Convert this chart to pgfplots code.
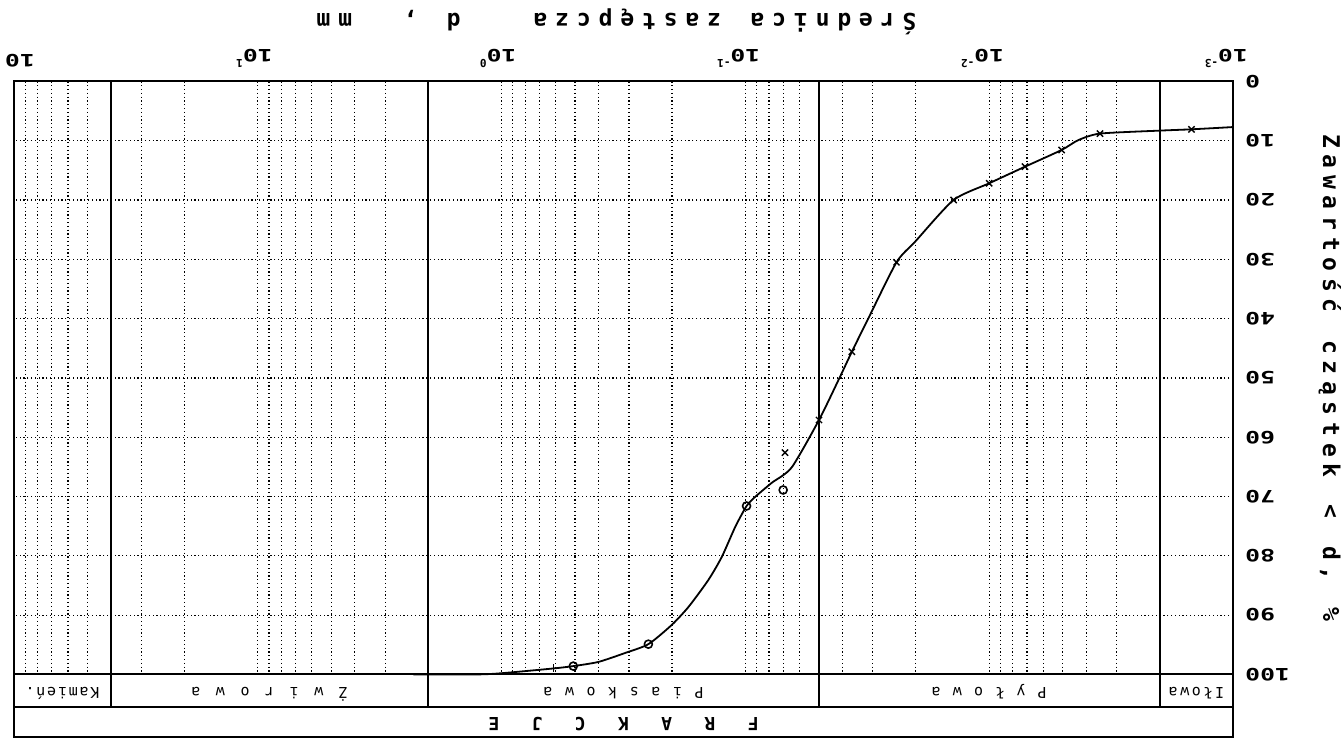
\documentclass[border=0pt]{standalone}
\usepackage{fontspec}
\usepackage{pgfplots}
\usepackage{pgfplotstable}
\pgfplotsset{compat=1.18}

\newfontfamily\txtfont{DejaVu Sans Mono}
\newfontfamily\numfont[FakeStretch=1.45]{DejaVu Sans Mono}

% set a string on a fixed character pitch (~ stands for a blank cell)
\newlength\chpitch
\makeatletter
\newcommand\pitched[2]{\setlength\chpitch{#1}\pitched@#2\@nil}
\def\pitched@#1{\ifx#1\@nil\else\makebox[\chpitch]{#1}\expandafter\pitched@\fi}
\makeatother
\newcommand\tsup[1]{\raisebox{5pt}{\txtfont\bfseries\fontsize{5.5}{6}\selectfont#1}}

% grading curve: grain diameter d [mm], percentage finer [%]
\pgfplotstableread{
d p
0.001 7.7
0.00148 8.08
0.002 8.3
0.00351 8.8
0.00431 9.9
0.00505 11.57
0.00713 14.38
0.0100 17.18
0.0140 20.0
0.0201 27.0
0.0240 30.5
0.0313 39.95
0.0366 45.6
0.0409 49.8
0.0499 57.1
0.0646 65.1
0.078 67.7
0.0914 70.1
0.0989 71.6
0.110 75.1
0.125 80.2
0.142 84.1
0.171 88.6
0.201 91.7
0.25 94.9
0.312 96.4
0.401 97.9
0.508 98.6
0.614 99.0
1.0 99.8
1.25 100
2.3 100
}\curvedata

% sedimentation results
\pgfplotstableread{
d p
0.00148 8.08
0.00351 8.8
0.00505 11.57
0.00713 14.38
0.0100 17.18
0.0140 20.0
0.0240 30.5
0.0366 45.6
0.0499 57.1
0.0688 62.6
}\hydrodata

% sieve results
\pgfplotstableread{
d p
0.070 68.9
0.0989 71.6
0.25 94.9
0.508 98.6
}\sievedata

\pgfplotstableread{
d p
0.614 99.0
}\extradata

\begin{document}
\begin{tikzpicture}
\begin{axis}[
  scale only axis,
  width=609.5pt, height=296.5pt,
  xmode=log, xmin=0.001, xmax=100,
  ymin=0, ymax=100,
  x dir=reverse, y dir=reverse,
  clip=false,
  axis line style={line width=1pt},
  xtick={0.001,0.01,0.1,1,10,100},
  minor xtick={0.002,0.003,0.004,0.005,0.006,0.007,0.008,0.009,
               0.02,0.03,0.04,0.05,0.06,0.07,0.08,0.09,
               0.2,0.3,0.4,0.5,0.6,0.7,0.8,0.9,
               2,3,4,5,6,7,8,9,
               20,30,40,50,60,70,80,90},
  ytick={0,10,20,30,40,50,60,70,80,90,100},
  xticklabels={{10\rlap{\tsup{-3}}},{10\rlap{\tsup{-2}}},{10\rlap{\tsup{-1}}},
               {10\rlap{\tsup{0}}},{10\rlap{\tsup{1}}},{10\hspace*{6pt}}},
  yticklabels={0,10,20,30,40,50,60,70,80,90,100},
  xticklabel pos=right, yticklabel pos=right,
  major tick length=0pt, minor tick length=0pt,
  grid=both,
  major grid style={black, line width=0.6pt, dash pattern=on 0.6pt off 1.3pt},
  minor grid style={black, line width=0.6pt, dash pattern=on 0.6pt off 1.3pt},
  tick label style={font=\numfont\bfseries\fontsize{8.5}{9}\selectfont},
  xticklabel style={yshift=6.7pt, inner sep=0pt, anchor=north, rotate=180},
  yticklabel style={xshift=6pt, inner sep=0pt, anchor=east, rotate=180},
]
  % fraction bands below the grid
  \draw[line width=1pt] (axis cs:100,100) rectangle (axis cs:0.001,110.56);
  \draw[line width=1pt] (axis cs:100,105.5) -- (axis cs:0.001,105.5);
  \draw[line width=1pt] (axis cs:0.002,0) -- (axis cs:0.002,105.5);
  \draw[line width=1pt] (axis cs:0.05,0) -- (axis cs:0.05,105.5);
  \draw[line width=1pt] (axis cs:2,0) -- (axis cs:2,105.5);
  \draw[line width=1pt] (axis cs:40,0) -- (axis cs:40,105.5);

  \addplot[black, line width=0.9pt, smooth, tension=0.4] table[x=d, y=p] {\curvedata};
  \addplot[black, only marks, mark=x, mark size=2.2pt, mark options={line width=0.7pt}] table[x=d, y=p] {\hydrodata};
  \addplot[black, only marks, mark=o, mark size=2pt, mark options={line width=0.8pt}] table[x=d, y=p] {\sievedata};
  \addplot[black, only marks, mark=+, mark size=2pt, mark options={line width=0.7pt}] table[x=d, y=p] {\extradata};

  % titles and fraction names
  \node[rotate=180, anchor=base, inner sep=0pt, font=\txtfont\bfseries\fontsize{11.5}{12}\selectfont]
    at (axis cs:0.3379,-11.53) {\pitched{10.85pt}{Średnica~zastępcza~~~d~,~~mm}};
  \node[rotate=-90, anchor=base, inner sep=0pt, font=\txtfont\bfseries\fontsize{11.5}{12}\selectfont]
    at (axis cs:0.0004273,50) {\pitched{10.3pt}{Zawartość~cząstek~<~d,~\%}};

  \begin{scope}[every node/.style={rotate=180, anchor=base, inner sep=0pt,
      font=\txtfont\fontsize{7.5}{8}\selectfont}]
    \node at (axis cs:63.25,102.2) {\pitched{5.4pt}{Kamień.}};
    \node at (axis cs:8.944,102.2) {\pitched{6.15pt}{Ż~w~i~r~o~w~a}};
    \node at (axis cs:0.3162,102.2) {\pitched{5.4pt}{P~i~a~s~k~o~w~a}};
    \node at (axis cs:0.01,102.2) {\pitched{5.3pt}{P~y~ł~o~w~a}};
    \node at (axis cs:0.001414,102.2) {\pitched{5.8pt}{Iłowa}};
  \end{scope}
  \node[rotate=180, anchor=base, inner sep=0pt, font=\txtfont\bfseries\fontsize{9}{9}\selectfont]
    at (axis cs:0.3162,107.35) {\pitched{10.8pt}{F~R~A~K~C~J~E}};

  \coordinate (bbA) at (axis cs:114.13,110.894);
  \coordinate (bbB) at (axis cs:0.00036058,-13.727);
\end{axis}
\pgfresetboundingbox
\path (bbA) rectangle (bbB);
\end{tikzpicture}
\end{document}
